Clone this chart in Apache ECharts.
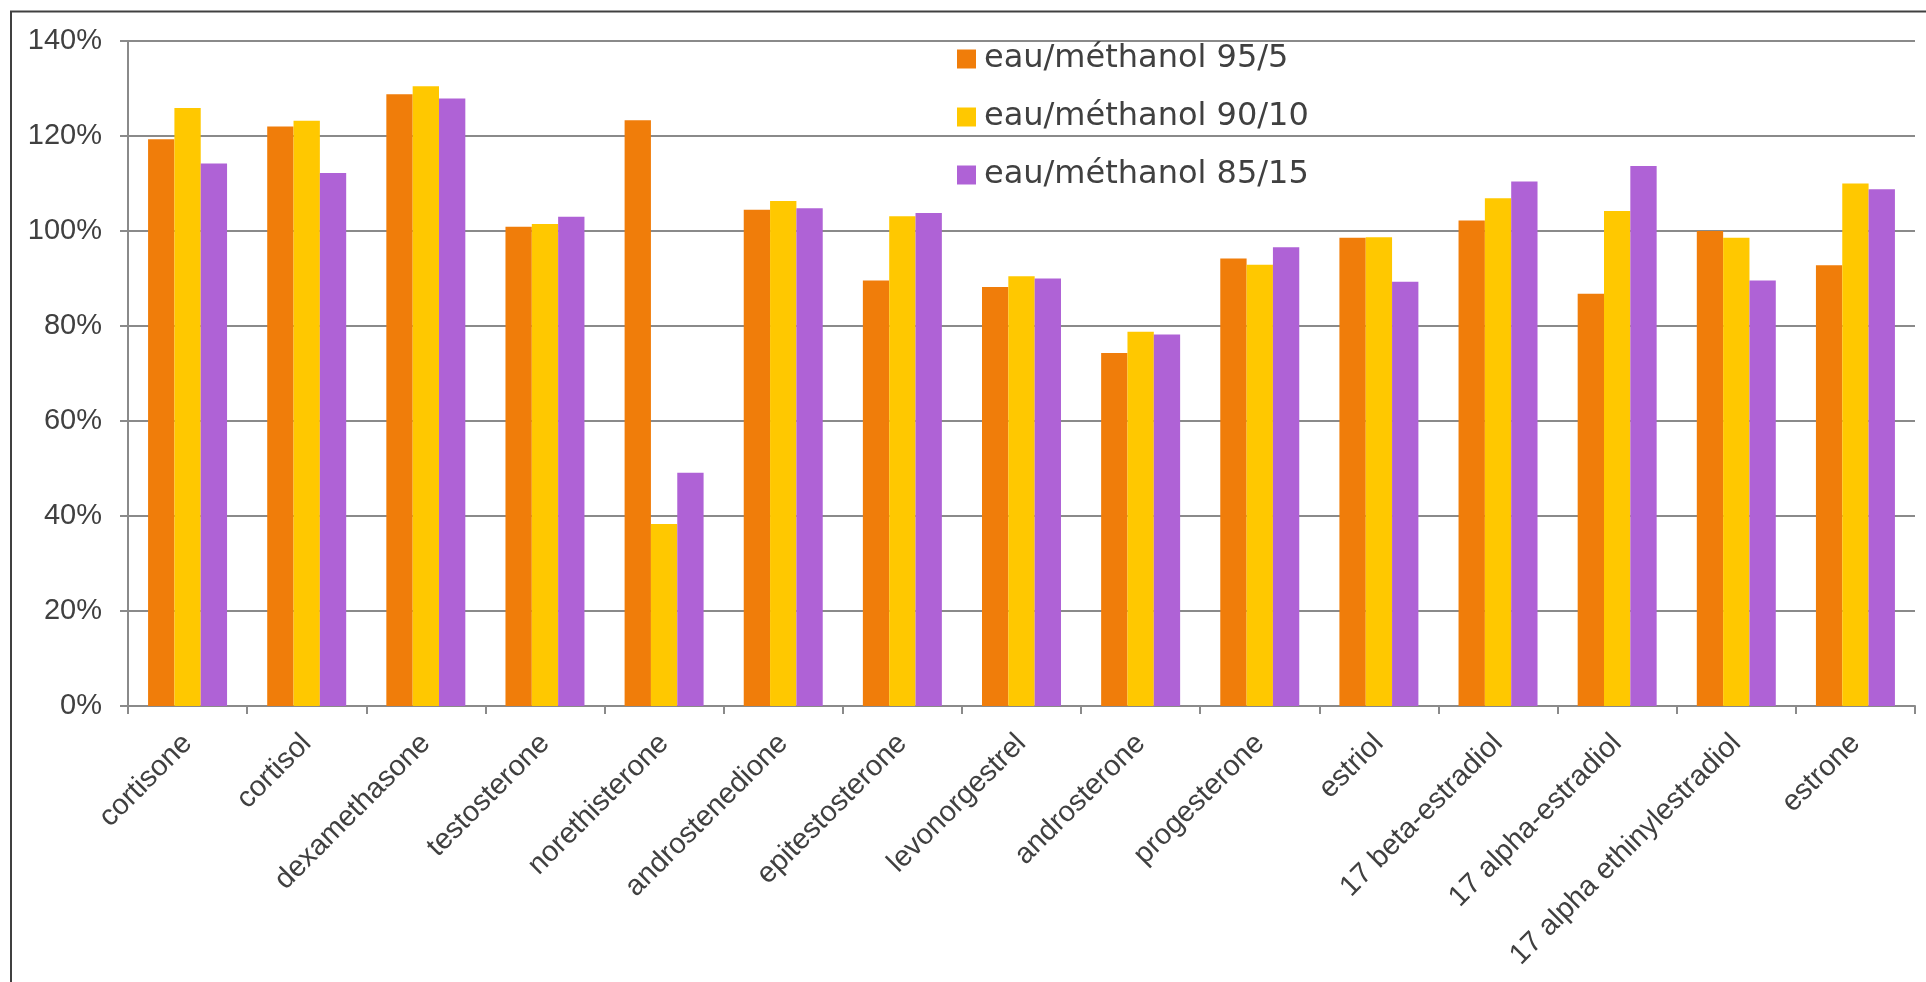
<!DOCTYPE html>
<html>
<head>
<meta charset="utf-8">
<script src="https://cdn.jsdelivr.net/npm/echarts@6/dist/echarts.min.js"></script>
<style>
html,body{margin:0;padding:0;background:#fff;}
#chart{width:1926px;height:982px;}
</style>
</head>
<body>
<div id="chart"></div>
<script>
const categories = ['cortisone','cortisol','dexamethasone','testosterone','norethisterone','androstenedione','epitestosterone','levonorgestrel','androsterone','progesterone','estriol','17 beta-estradiol','17 alpha-estradiol','17 alpha ethinylestradiol','estrone'];
const seriesNames = ['eau/méthanol 95/5','eau/méthanol 90/10','eau/méthanol 85/15'];
const values955 = [119.3,122.0,128.8,100.9,123.3,104.5,89.6,88.2,74.3,94.2,98.6,102.2,86.8,100.0,92.8];
const values9010 = [125.9,123.2,130.5,101.5,38.3,106.3,103.1,90.5,78.8,92.9,98.7,106.9,104.2,98.6,110.0];
const values8515 = [114.2,112.2,127.9,103.0,49.1,104.8,103.8,90.0,78.2,96.6,89.3,110.4,113.7,89.6,108.8];
const yTicks = [0,20,40,60,80,100,120,140];

const colors = ['#F07D0A','#FFC800','#AF62D6'];
const font = '"Liberation Sans", Arial, sans-serif';
const textColor = '#404040';
const gridColor = '#8a8a8a';

const chart = echarts.init(document.getElementById('chart'), null, {renderer:'canvas'});
const seriesData = [values955, values9010, values8515];
chart.setOption({
  animation: false,
  backgroundColor: '#ffffff',
  color: colors,
  graphic: [{
    type: 'rect',
    silent: true,
    z: -10,
    shape: {x: 11, y: 11.5, width: 2200, height: 2200},
    style: {fill: 'none', stroke: '#404040', lineWidth: 2}
  }],
  grid: {left: 128, right: 11, top: 41, bottom: 276, containLabel: false},
  legend: {
    orient: 'vertical',
    left: 957,
    top: 43,
    padding: 0,
    itemWidth: 19,
    itemHeight: 19,
    itemGap: 26,
    icon: 'rect',
    data: seriesNames,
    textStyle: {fontFamily: '"DejaVu Sans", sans-serif', fontSize: 32, lineHeight: 31, color: textColor, padding: [0,0,0,3]}
  },
  xAxis: {
    type: 'category',
    data: categories,
    axisLine: {show: true, lineStyle: {color: gridColor, width: 2}},
    axisTick: {show: true, length: 8, lineStyle: {color: gridColor, width: 2}},
    axisLabel: {rotate: 45, interval: 0, margin: 33, fontFamily: font, fontSize: 29, color: textColor}
  },
  yAxis: {
    type: 'value',
    min: yTicks[0],
    max: yTicks[yTicks.length-1],
    interval: 20,
    axisLine: {show: true, lineStyle: {color: gridColor, width: 2}},
    axisTick: {show: true, length: 8, lineStyle: {color: gridColor, width: 2}},
    splitLine: {show: true, lineStyle: {color: gridColor, width: 2}},
    axisLabel: {margin: 26, fontFamily: font, fontSize: 29, color: textColor, formatter: '{value}%'}
  },
  series: seriesNames.map((name, i) => ({
    name: name,
    type: 'bar',
    data: seriesData[i],
    barGap: '0%',
    barCategoryGap: '33.7%',
    itemStyle: {color: colors[i]}
  }))
});
</script>
</body>
</html>
